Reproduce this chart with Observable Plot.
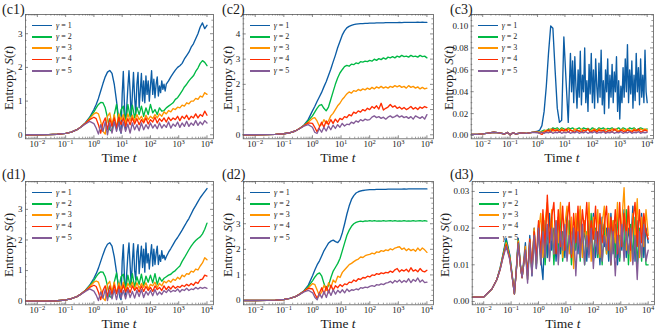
<!DOCTYPE html>
<html><head><meta charset="utf-8">
<script src="https://cdn.jsdelivr.net/npm/d3@7"></script>
<script src="https://cdn.jsdelivr.net/npm/@observablehq/plot@0.6"></script>
<style>
body{margin:0;background:#fff;}
#fig{position:relative;width:665px;height:333px;overflow:hidden;font-family:"Liberation Serif","Times New Roman","DejaVu Serif",serif;color:#1a1a1a;background:#fff;}
.abs{position:absolute;white-space:nowrap;line-height:1;}
</style></head><body><div id="fig"></div>
<script>
// ---------- data ----------
const colors = ["#0C5DA5","#00B945","#FF9500","#FF2C00","#845B97"];
const gammas = ["1","2","3","4","5"];
const xMajor = [1e-2,1e-1,1,1e1,1e2,1e3,1e4];
const xDomainLog = [-2.42, 4.23];

// log10(t) grids
const GA = [-2.42,-2,-1.6,-1.3,-1,-0.8,-0.6,-0.45,-0.3,-0.15,
0,0.08,0.16,0.24,0.32,0.4,0.48,0.56,0.64,0.72,
0.8,0.88,0.96,1.04,1.12,1.2,1.28,1.36,1.44,1.52,
1.6,1.68,1.76,1.84,1.92,2,2.08,2.16,2.24,2.32,
2.4,2.48,2.56,2.64,2.72,2.8,2.88,2.96,3.04,3.12,
3.2,3.28,3.36,3.44,3.52,3.6,3.68,3.76,3.84,3.92,
4];
// finer grid for the gamma = 1 curves of (c1)/(d1)
const GB1 = [-2.42,-2,-1.6,-1.3,-1,-0.8,-0.6,-0.45,-0.3,-0.15,
0,0.08,0.16,0.24,0.32,0.4,0.48,0.56,0.64,0.72,0.8,0.88,
0.92,0.96,1,1.04,1.08,1.12,1.16,1.2,1.24,1.28,
1.32,1.36,1.4,1.44,1.48,1.52,1.56,1.6,1.64,1.68,
1.72,1.76,1.8,1.84,1.88,1.92,1.96,2,2.04,2.08,
2.12,2.16,2.2,2.24,2.28,2.32,2.36,2.4,2.44,2.48,
2.52,2.56,
2.64,2.72,2.8,2.88,2.96,3.04,3.12,3.2,3.28,3.36,3.44,3.52,3.6,3.68,3.76,3.84,3.92,4];
const GC = [-2.42,-2.2,-2,-1.8,-1.6,-1.4,-1.2,-1.1,-1,-0.9,-0.8,-0.6,-0.4,-0.2,
0,0.08,0.16,0.24,0.32,0.4,0.48,0.56,0.64,0.72,
0.8,0.88,0.96,1.04,1.12,1.2,1.28,1.36,1.44,1.52,
1.6,1.68,1.76,1.84,1.92,2,2.08,2.16,2.24,2.32,
2.4,2.48,2.56,2.64,2.72,2.8,2.88,2.96,3.04,3.12,
3.2,3.28,3.36,3.44,3.52,3.6,3.68,3.76,3.84,3.92,
4];
// finer grid for the gamma = 1 curve of (c3)
const GC1 = [-2.42,-2.2,-2,-1.8,-1.6,-1.4,-1.2,-1.1,-1,-0.9,-0.8,-0.6,-0.4,-0.2,
0,0.08,0.16,0.24,0.32,0.4,0.48,0.56,0.64,0.72,0.8,0.88,0.96,1.04,1.12,1.2,
1.24,1.28,1.32,1.36,1.4,1.44,1.48,1.52,1.56,1.6,
1.64,1.68,1.72,1.76,1.8,1.84,1.88,1.92,1.96,2,
2.04,2.08,2.12,2.16,2.2,2.24,2.28,2.32,2.36,2.4,
2.44,2.48,2.52,2.56,2.6,2.64,2.68,2.72,2.76,2.8,
2.84,2.88,2.92,2.96,3,3.04,3.08,3.12,3.16,3.2,
3.24,3.28,3.32,3.36,3.4,3.44,3.48,3.52,3.56,3.6,
3.64,3.68,3.72,3.76,3.8,3.84,3.88,3.92,3.96,4];
const GD = [-2.42,-2,-1.7,-1.52,-1.4,-1.3,-1.18,-1.05,-0.95,-0.88,-0.8,-0.74,-0.66,-0.6,
-0.48,-0.4,-0.32,-0.24,-0.16,-0.08,0,0.08,0.16,0.24,
0.32,0.4,0.48,0.56,0.64,0.72,0.8,0.88,0.96,1.04,
1.12,1.2,1.28,1.36,1.44,1.52,1.6,1.68,1.76,1.84,
1.92,2,2.08,2.16,2.24,2.32,2.4,2.48,2.56,2.64,
2.72,2.8,2.88,2.96,3.04,3.12,3.2,3.28,3.36,3.44,
3.52,3.6,3.68,3.76,3.84,3.92,4];

// (c1)
const c1_g1 = [0,0,0.005,0.015,0.04,0.08,0.15,0.24,0.36,0.52,
0.75,0.9,1.08,1.3,1.52,1.72,1.86,1.91,1.82,1.5,1.0,0.45,
0.15,0.05,1.2,1.88,0.9,0.15,0.8,1.4,1.9,1.3,
0.45,1.2,1.85,1.1,0.6,1.5,1.85,0.8,1.3,1.82,
1.0,1.6,0.95,1.75,1.2,1.6,1.0,1.45,1.9,1.2,
1.65,1.1,1.5,1.72,1.15,1.45,1.25,1.6,1.35,1.5,
1.3,1.5,
1.6,1.72,1.82,1.92,2.0,2.05,2.12,2.25,2.35,2.45,2.6,2.7,2.85,3.0,3.2,3.32,3.15,3.25];
const c1_g2 = [0,0,0.005,0.015,0.04,0.08,0.15,0.24,0.35,0.5,
0.68,0.8,0.9,0.96,0.95,0.8,0.5,0.15,0.1,0.6,
0.9,0.35,0.75,0.85,0.3,0.9,0.55,0.88,0.5,0.82,
0.6,0.85,0.55,0.8,0.6,0.9,0.65,0.75,0.6,0.8,
0.7,0.72,0.8,0.85,0.9,0.95,1.05,1.1,1.2,1.3,
1.42,1.5,1.6,1.68,1.75,1.88,1.98,2.12,2.2,2.15,
2.05];
const c1_g3 = [0,0,0.005,0.015,0.04,0.08,0.15,0.24,0.34,0.48,
0.62,0.66,0.62,0.4,0.1,0.02,0.55,0.65,0.3,0.6,
0.2,0.62,0.45,0.6,0.35,0.62,0.42,0.58,0.4,0.6,
0.45,0.55,0.4,0.58,0.45,0.55,0.48,0.6,0.5,0.62,
0.55,0.68,0.62,0.72,0.68,0.78,0.75,0.82,0.8,0.88,
0.85,0.95,0.92,1.0,1.0,1.08,1.05,1.15,1.12,1.25,
1.2];
const c1_g4 = [0,0,0.005,0.015,0.04,0.08,0.15,0.24,0.34,0.45,
0.52,0.48,0.3,0.05,0.35,0.5,0.15,0.48,0.25,0.5,
0.2,0.52,0.3,0.5,0.25,0.48,0.3,0.5,0.32,0.48,
0.3,0.45,0.35,0.5,0.32,0.45,0.38,0.52,0.35,0.48,
0.4,0.5,0.38,0.52,0.42,0.5,0.45,0.55,0.42,0.55,
0.48,0.58,0.45,0.55,0.5,0.62,0.5,0.6,0.55,0.7,
0.58];
const c1_g5 = [0,0,0.005,0.015,0.04,0.08,0.15,0.23,0.32,0.4,
0.33,0.2,0.02,0.3,0.1,0.38,0.0,0.35,0.05,0.38,
0.1,0.35,0.05,0.38,0.1,0.32,0.05,0.35,0.15,0.3,
0.12,0.35,0.15,0.3,0.18,0.35,0.2,0.3,0.18,0.35,
0.2,0.3,0.22,0.38,0.2,0.32,0.25,0.38,0.22,0.35,
0.25,0.4,0.25,0.35,0.28,0.42,0.28,0.38,0.3,0.42,
0.35];

// (c2)
const c2_g1 = [0,0,0.005,0.015,0.04,0.08,0.15,0.25,0.38,0.6,
0.95,1.12,1.32,1.5,1.68,1.9,2.1,2.35,2.6,2.88,
3.15,3.45,3.7,3.95,4.12,4.24,4.3,4.34,4.37,4.39,
4.4,4.41,4.41,4.42,4.42,4.43,4.43,4.43,4.44,4.44,
4.44,4.44,4.45,4.45,4.45,4.45,4.45,4.45,4.46,4.45,
4.46,4.46,4.46,4.46,4.46,4.46,4.47,4.46,4.47,4.46,
4.46];
const c2_g2 = [0,0,0.005,0.015,0.04,0.08,0.15,0.25,0.37,0.55,
0.75,0.9,1.05,1.17,1.2,1.05,0.95,1.1,1.4,1.7,
2.0,2.25,2.45,2.58,2.7,2.75,2.72,2.8,2.78,2.85,
2.82,2.9,2.88,2.92,2.9,2.95,2.92,3.0,2.95,3.02,
2.98,3.05,3.0,3.08,3.05,3.1,3.05,3.12,3.08,3.15,
3.1,3.12,3.08,3.15,3.1,3.12,3.08,3.15,3.1,3.12,
3.05];
const c2_g3 = [0,0,0.005,0.015,0.04,0.08,0.15,0.25,0.36,0.5,
0.65,0.68,0.55,0.35,0.4,0.6,0.45,0.55,0.75,0.85,
1.0,1.15,1.25,1.4,1.5,1.62,1.7,1.65,1.75,1.72,
1.8,1.75,1.82,1.78,1.85,1.8,1.88,1.82,1.9,1.85,
1.92,1.85,1.9,1.85,1.92,1.88,1.95,1.9,1.95,1.88,
1.92,1.85,1.95,1.88,1.92,1.85,1.9,1.82,1.88,1.82,
1.85];
const c2_g4 = [0,0,0.005,0.015,0.04,0.08,0.15,0.25,0.36,0.47,
0.45,0.3,0.12,0.3,0.5,0.3,0.55,0.4,0.6,0.45,
0.62,0.5,0.65,0.6,0.72,0.68,0.8,0.75,0.9,0.85,
0.95,0.9,1.0,0.95,1.05,1.0,1.12,1.05,1.15,1.02,
1.25,0.98,1.05,1.1,1.2,1.1,1.15,1.05,1.1,1.02,
1.08,1.0,1.05,1.12,1.02,1.08,1.0,1.1,1.05,1.12,
1.08];
const c2_g5 = [0,0,0.005,0.015,0.04,0.08,0.15,0.24,0.34,0.4,
0.3,0.1,0.05,0.25,0.1,0.3,0.15,0.35,0.2,0.38,
0.25,0.4,0.3,0.45,0.35,0.42,0.4,0.5,0.45,0.55,
0.5,0.6,0.55,0.62,0.58,0.6,0.7,0.75,0.68,0.72,
0.65,0.7,0.62,0.7,0.75,0.68,0.72,0.78,0.7,0.75,
0.68,0.72,0.65,0.72,0.62,0.75,0.7,0.65,0.72,0.62,
0.8];

// (c3)
const c3Early = [0.001,0.0011,0.0015,0.0022,0.003,0.0024,0.0014,0.0028,0.0006,0.0026,0.0014,0.0024,0.002,0.0028];
const c3_g1 = [...c3Early,
0.004,0.005,0.009,0.022,0.045,0.075,0.1,0.098,0.06,0.025,0.012,0.014,0.09,0.05,0.012,0.075,
0.04,0.068,0.03,0.072,0.045,0.025,0.06,0.035,0.077,0.028,
0.055,0.04,0.08,0.03,0.05,0.022,0.065,0.038,0.075,0.03,
0.06,0.025,0.07,0.045,0.03,0.066,0.035,0.078,0.028,0.05,
0.02,0.06,0.04,0.07,0.025,0.055,0.035,0.065,0.03,0.058,
0.04,0.072,0.022,0.05,0.015,0.045,0.03,0.062,0.035,0.07,
0.04,0.083,0.03,0.06,0.038,0.068,0.025,0.055,0.032,0.075,
0.04,0.062,0.028,0.07,0.035,0.055,0.03,0.078,0.04,0.03];
const c3_g2 = [...c3Early,
0.003,0.003,0.004,0.005,0.004,0.006,0.005,0.007,0.006,0.007,
0.005,0.007,0.006,0.005,0.007,0.006,0.007,0.005,0.006,0.007,
0.005,0.007,0.006,0.0065,0.005,0.007,0.006,0.005,0.007,0.006,
0.007,0.005,0.0065,0.006,0.007,0.005,0.006,0.007,0.005,0.007,
0.006,0.005,0.007,0.006,0.007,0.005,0.006,0.007,0.006,0.005,
0.006];
const c3_g3 = [...c3Early,
0.003,0.003,0.003,0.004,0.005,0.004,0.006,0.004,0.005,0.006,
0.004,0.006,0.005,0.004,0.006,0.005,0.004,0.006,0.005,0.004,
0.006,0.004,0.005,0.006,0.004,0.005,0.006,0.004,0.006,0.005,
0.004,0.006,0.005,0.004,0.006,0.005,0.006,0.004,0.005,0.006,
0.004,0.006,0.005,0.004,0.006,0.005,0.004,0.006,0.005,0.006,
0.005];
const c3_g4 = [...c3Early,
0.003,0.002,0.001,0.003,0.004,0.005,0.003,0.006,0.004,0.005,
0.003,0.005,0.004,0.006,0.003,0.005,0.004,0.003,0.005,0.004,
0.003,0.005,0.004,0.006,0.003,0.004,0.005,0.003,0.005,0.004,
0.005,0.003,0.004,0.005,0.003,0.006,0.004,0.003,0.005,0.004,
0.003,0.005,0.004,0.003,0.005,0.004,0.006,0.003,0.004,0.005,
0.004];
const c3_g5 = [...c3Early,
0.0025,0.002,0.003,0.002,0.003,0.0025,0.0035,0.002,0.003,0.0025,
0.0035,0.002,0.003,0.0025,0.0035,0.002,0.003,0.0025,0.0035,0.002,
0.003,0.0025,0.0035,0.002,0.003,0.0025,0.0035,0.002,0.003,0.0025,
0.0035,0.002,0.003,0.0025,0.0035,0.002,0.003,0.0025,0.0035,0.002,
0.003,0.0025,0.0035,0.002,0.003,0.0025,0.0035,0.002,0.003,0.0025,
0.003];

// (d1)
const d1_g1 = [0,0,0.005,0.015,0.04,0.08,0.15,0.24,0.36,0.52,
0.75,0.9,1.08,1.3,1.52,1.72,1.86,1.91,1.8,1.45,0.95,0.4,
0.12,0.05,1.3,1.85,0.8,0.2,0.9,1.5,1.9,1.2,
0.5,1.3,1.88,1.0,0.7,1.6,1.85,0.9,1.4,1.8,
1.1,1.7,0.95,1.9,1.25,1.55,1.05,1.5,1.85,1.15,
1.7,1.2,1.55,1.8,1.2,1.5,1.3,1.65,1.4,1.5,
1.35,1.45,
1.6,1.72,1.85,1.98,2.08,2.2,2.32,2.45,2.58,2.7,2.85,3.0,3.12,3.25,3.38,3.48,3.58,3.68];
const d1_g2 = [0,0,0.005,0.015,0.04,0.08,0.15,0.24,0.35,0.5,
0.68,0.8,0.9,0.96,0.95,0.8,0.5,0.15,0.12,0.62,
0.92,0.4,0.8,0.88,0.35,0.85,0.5,0.9,0.45,0.8,
0.55,0.88,0.5,0.82,0.62,0.85,0.6,0.9,0.55,0.78,
0.65,0.75,0.8,0.85,0.88,0.95,1.0,1.08,1.15,1.3,
1.42,1.55,1.68,1.8,1.9,1.98,2.05,2.1,2.2,2.35,
2.55];
const d1_g3 = [0,0,0.005,0.015,0.04,0.08,0.15,0.24,0.34,0.48,
0.62,0.66,0.62,0.4,0.1,0.02,0.55,0.65,0.3,0.62,
0.25,0.6,0.4,0.62,0.35,0.58,0.45,0.62,0.38,0.6,
0.42,0.58,0.45,0.6,0.4,0.55,0.5,0.62,0.45,0.58,
0.5,0.65,0.6,0.68,0.62,0.72,0.68,0.78,0.72,0.85,
0.8,0.9,0.88,0.98,0.95,1.05,1.02,1.15,1.25,1.42,
1.35];
const d1_g4 = [0,0,0.005,0.015,0.04,0.08,0.15,0.24,0.34,0.45,
0.52,0.48,0.3,0.05,0.35,0.5,0.15,0.5,0.22,0.52,
0.25,0.5,0.28,0.52,0.3,0.45,0.28,0.5,0.35,0.45,
0.3,0.5,0.32,0.48,0.35,0.45,0.32,0.5,0.38,0.45,
0.35,0.5,0.38,0.48,0.4,0.5,0.42,0.48,0.45,0.52,
0.48,0.55,0.5,0.58,0.52,0.62,0.58,0.7,0.72,0.85,
0.82];
const d1_g5 = [0,0,0.005,0.015,0.04,0.08,0.15,0.23,0.32,0.4,
0.33,0.2,0.02,0.3,0.1,0.38,0.02,0.35,0.08,0.38,
0.05,0.38,0.1,0.35,0.08,0.38,0.12,0.32,0.1,0.35,
0.15,0.38,0.12,0.32,0.2,0.35,0.18,0.38,0.2,0.3,
0.22,0.35,0.28,0.38,0.3,0.35,0.32,0.4,0.3,0.38,
0.35,0.42,0.35,0.4,0.38,0.45,0.4,0.45,0.42,0.45,
0.42];

// (d2)
const d2_g1 = [0,0,0.005,0.015,0.04,0.08,0.15,0.25,0.38,0.6,
0.98,1.2,1.4,1.55,1.75,1.95,2.1,2.25,2.32,2.36,
2.3,2.26,2.38,2.65,3.0,3.38,3.7,3.95,4.1,4.2,
4.25,4.28,4.3,4.31,4.32,4.33,4.33,4.33,4.34,4.34,
4.34,4.34,4.34,4.35,4.35,4.35,4.35,4.35,4.35,4.35,
4.36,4.35,4.36,4.36,4.36,4.36,4.36,4.36,4.36,4.36,
4.36];
const d2_g2 = [0,0,0.005,0.015,0.04,0.08,0.15,0.25,0.37,0.55,
0.78,0.92,1.03,1.08,0.95,0.65,0.42,0.6,0.9,1.15,
1.3,1.45,1.65,1.95,2.25,2.55,2.75,2.9,3.0,3.05,
3.08,3.1,3.08,3.11,3.1,3.12,3.1,3.12,3.1,3.11,
3.1,3.12,3.1,3.11,3.12,3.1,3.12,3.1,3.11,3.1,
3.12,3.1,3.11,3.1,3.12,3.1,3.11,3.12,3.1,3.12,
3.1];
const d2_g3 = [0,0,0.005,0.015,0.04,0.08,0.15,0.25,0.36,0.5,
0.66,0.62,0.4,0.18,0.35,0.6,0.4,0.7,0.5,0.8,
0.7,0.95,0.9,1.1,1.2,1.3,1.4,1.45,1.52,1.58,
1.62,1.7,1.68,1.75,1.78,1.8,1.85,1.82,1.9,1.88,
1.95,1.92,1.98,1.95,2.02,1.98,2.05,2.08,2.1,2.0,
2.05,1.95,2.02,1.95,2.0,1.92,2.05,1.95,2.05,1.98,
1.88];
const d2_g4 = [0,0,0.005,0.015,0.04,0.08,0.15,0.25,0.36,0.48,
0.45,0.25,0.08,0.3,0.5,0.25,0.55,0.3,0.6,0.4,
0.58,0.5,0.62,0.55,0.65,0.62,0.72,0.7,0.8,0.75,
0.85,0.82,0.9,0.88,0.95,0.92,1.0,0.98,1.05,1.02,
1.08,1.05,1.1,1.08,1.15,1.1,1.2,1.25,1.12,1.2,
1.15,1.22,1.12,1.28,1.15,1.2,1.12,1.25,1.15,1.12,
1.18];
const d2_g5 = [0,0,0.005,0.015,0.04,0.08,0.15,0.24,0.34,0.4,
0.3,0.12,0.03,0.28,0.1,0.35,0.12,0.4,0.2,0.42,
0.25,0.4,0.3,0.42,0.3,0.45,0.35,0.42,0.4,0.45,
0.42,0.5,0.48,0.52,0.5,0.55,0.58,0.55,0.62,0.6,
0.65,0.62,0.68,0.7,0.75,0.68,0.78,0.72,0.8,0.7,
0.78,0.72,0.85,0.7,0.82,0.75,0.88,0.72,0.8,0.7,
0.72];

// (d3)
const d3_g1 = [0.0012,0.0012,0.0034,0.006,0.0092,0.0128,0.0172,0.0128,0.0065,0.0021,0.010,0.0172,0.0100,0.0066,
0.016,0.006,0.018,0.007,0.02,0.009,0.021,0.012,0.006,0.022,
0.012,0.024,0.014,0.02,0.011,0.023,0.013,0.019,0.012,0.024,
0.015,0.021,0.011,0.018,0.013,0.025,0.014,0.02,0.011,0.022,
0.016,0.024,0.012,0.019,0.01,0.023,0.015,0.02,0.011,0.024,
0.013,0.021,0.01,0.018,0.014,0.025,0.012,0.02,0.015,0.026,
0.011,0.022,0.013,0.024,0.012,0.02,0.016];
const d3_g2 = [0.0012,0.0012,0.0034,0.006,0.009,0.0125,0.0166,0.0124,0.0063,0.0021,0.0098,0.0168,0.0098,0.0065,
0.014,0.007,0.016,0.008,0.019,0.01,0.02,0.011,0.022,0.01,
0.02,0.012,0.023,0.01,0.021,0.013,0.024,0.011,0.019,0.012,
0.022,0.01,0.02,0.014,0.023,0.011,0.021,0.01,0.019,0.013,
0.024,0.011,0.02,0.012,0.022,0.01,0.021,0.013,0.019,0.01,
0.022,0.012,0.024,0.011,0.02,0.013,0.025,0.01,0.021,0.012,
0.023,0.01,0.02,0.011,0.022,0.01,0.01];
const d3_g3 = [0.0012,0.0012,0.0034,0.006,0.0089,0.0122,0.016,0.012,0.0062,0.0021,0.0096,0.0165,0.0097,0.0065,
0.015,0.006,0.017,0.008,0.02,0.01,0.019,0.024,0.012,0.022,
0.027,0.014,0.025,0.013,0.022,0.016,0.027,0.012,0.021,0.026,
0.013,0.023,0.009,0.024,0.017,0.026,0.012,0.022,0.015,0.027,
0.011,0.023,0.016,0.025,0.012,0.021,0.026,0.013,0.024,0.01,
0.022,0.016,0.027,0.013,0.022,0.031,0.014,0.026,0.011,0.024,
0.017,0.028,0.012,0.023,0.015,0.025,0.018];
const d3_g4 = [0.0012,0.0012,0.0034,0.006,0.0088,0.012,0.0155,0.0117,0.0061,0.0021,0.0095,0.016,0.0096,0.0065,
0.014,0.007,0.017,0.009,0.019,0.012,0.022,0.013,0.025,0.014,
0.029,0.016,0.023,0.027,0.013,0.025,0.015,0.026,0.014,0.022,
0.027,0.012,0.024,0.016,0.026,0.013,0.025,0.019,0.027,0.014,
0.022,0.017,0.026,0.013,0.024,0.016,0.021,0.026,0.014,0.023,
0.017,0.025,0.013,0.027,0.015,0.024,0.018,0.026,0.014,0.022,
0.027,0.015,0.025,0.016,0.024,0.019,0.017];
const d3_g5 = [0.0012,0.0012,0.0034,0.006,0.0087,0.0118,0.015,0.0114,0.006,0.0021,0.0094,0.0158,0.0095,0.0065,
0.014,0.005,0.016,0.007,0.018,0.009,0.02,0.01,0.019,0.012,
0.021,0.011,0.02,0.013,0.022,0.01,0.019,0.014,0.021,0.011,
0.018,0.013,0.02,0.007,0.019,0.012,0.021,0.01,0.018,0.012,
0.02,0.009,0.019,0.013,0.021,0.011,0.018,0.014,0.02,0.01,
0.019,0.007,0.018,0.012,0.021,0.011,0.019,0.013,0.02,0.01,
0.018,0.006,0.019,0.012,0.021,0.011,0.014];

// panel ticks
const yTicksInt3 = [0,1,2,3];
const yTicksInt4 = [0,1,2,3,4];
const yTicksC3 = [0,0.02,0.04,0.06,0.08,0.10];
const yTicksD3 = [0,0.01,0.02,0.03];

// ---------- layout ----------
const panels = [
 {name:"(c1)", ox:0,   oy:0,   W:220, H:165, L:25,    R:213, T:14,  B:138.3, yDomain:[-0.119,3.57], yTicks:yTicksInt3, minor:0.2,   fmt:d3.format("d"),  grids:[GB1,GA,GA,GA,GA], series:[c1_g1,c1_g2,c1_g3,c1_g4,c1_g5], labX:2,  ylabX:7.5},
 {name:"(c2)", ox:220, oy:0,   W:220, H:165, L:242.7, R:433, T:14,  B:138.3, yDomain:[-0.159,4.77], yTicks:yTicksInt4, minor:0.2,   fmt:d3.format("d"),  grids:[GA,GA,GA,GA,GA], series:[c2_g1,c2_g2,c2_g3,c2_g4,c2_g5], labX:222, ylabX:227},
 {name:"(c3)", ox:440, oy:0,   W:225, H:165, L:470.7, R:653, T:14,  B:138.3, yDomain:[-0.003,0.1105], yTicks:yTicksC3, minor:0.005, fmt:d3.format(".2f"), grids:[GC1,GC,GC,GC,GC], series:[c3_g1,c3_g2,c3_g3,c3_g4,c3_g5], labX:450, ylabX:447.5},
 {name:"(d1)", ox:0,   oy:165, W:220, H:168, L:25,    R:213, T:181, B:304.3, yDomain:[-0.118,3.91], yTicks:yTicksInt3, minor:0.2,   fmt:d3.format("d"),  grids:[GB1,GA,GA,GA,GA], series:[d1_g1,d1_g2,d1_g3,d1_g4,d1_g5], labX:2,  ylabX:7.5},
 {name:"(d2)", ox:220, oy:165, W:220, H:168, L:243,   R:433, T:181, B:304.3, yDomain:[-0.168,4.65], yTicks:yTicksInt4, minor:0.2,   fmt:d3.format("d"),  grids:[GA,GA,GA,GA,GA], series:[d2_g1,d2_g2,d2_g3,d2_g4,d2_g5], labX:222, ylabX:227},
 {name:"(d3)", ox:440, oy:165, W:225, H:168, L:471.7, R:654, T:181, B:304.3, yDomain:[-0.0009,0.0327], yTicks:yTicksD3, minor:0.002, fmt:d3.format(".2f"), grids:[GD,GD,GD,GD,GD], series:[d3_g1,d3_g2,d3_g3,d3_g4,d3_g5], labX:450, ylabX:444}
];

const fig = document.getElementById("fig");
const NS = "http://www.w3.org/2000/svg";
const frameColor = "#5a5a5a";
const serif = "'Liberation Serif','Times New Roman','DejaVu Serif',serif";

function addDiv(html, css) {
  const d = document.createElement("div");
  d.className = "abs";
  d.innerHTML = html;
  Object.assign(d.style, css);
  fig.appendChild(d);
  return d;
}

const xMinor = [];
for (let k = -3; k <= 4; k++) for (let m = 2; m <= 9; m++) {
  const v = m * Math.pow(10, k);
  const lv = Math.log10(v);
  if (lv > xDomainLog[0] && lv < xDomainLog[1]) xMinor.push(v);
}

panels.forEach(p => {
  const pw = p.R - p.L, ph = p.B - p.T;
  const [ylo, yhi] = p.yDomain;
  const yMinor = [];
  for (let i = Math.ceil(ylo / p.minor); i * p.minor <= yhi; i++) {
    const v = +(i * p.minor).toFixed(6);
    if (!p.yTicks.some(t => Math.abs(t - v) < p.minor / 10)) yMinor.push(v);
  }
  const marks = [
    Plot.axisX({ticks: xMajor, tickSize: 0, tickPadding: 2, fontSize: 9, label: null,
      tickFormat: d => "10^" + Math.round(Math.log10(d))}),
    Plot.axisY({ticks: p.yTicks, tickSize: 0, tickPadding: 3, fontSize: 9, label: null, tickFormat: p.fmt}),
    Plot.tickX(xMajor, {x: d => d, insetTop: ph - 3, stroke: frameColor, strokeWidth: 0.7}),
    Plot.tickX(xMajor, {x: d => d, insetBottom: ph - 3, stroke: frameColor, strokeWidth: 0.7}),
    Plot.tickX(xMinor, {x: d => d, insetTop: ph - 1.6, stroke: frameColor, strokeWidth: 0.6}),
    Plot.tickX(xMinor, {x: d => d, insetBottom: ph - 1.6, stroke: frameColor, strokeWidth: 0.6}),
    Plot.tickY(p.yTicks, {y: d => d, insetRight: pw - 3, stroke: frameColor, strokeWidth: 0.7}),
    Plot.tickY(p.yTicks, {y: d => d, insetLeft: pw - 3, stroke: frameColor, strokeWidth: 0.7}),
    Plot.tickY(yMinor, {y: d => d, insetRight: pw - 1.6, stroke: frameColor, strokeWidth: 0.6}),
    Plot.tickY(yMinor, {y: d => d, insetLeft: pw - 1.6, stroke: frameColor, strokeWidth: 0.6})
  ];
  p.series.forEach((vals, i) => {
    const grid = p.grids[i];
    if (vals.length !== grid.length) console.error(p.name, i, vals.length, grid.length);
    const data = grid.map((lt, j) => ({t: Math.pow(10, lt), s: vals[j]}));
    marks.push(Plot.line(data, {x: "t", y: "s", stroke: colors[i], strokeWidth: 1.35, clip: true}));
  });
  marks.push(Plot.frame({stroke: frameColor, strokeWidth: 0.8}));

  const svg = Plot.plot({
    width: p.W, height: p.H,
    marginLeft: p.L - p.ox, marginRight: p.ox + p.W - p.R,
    marginTop: p.T - p.oy, marginBottom: p.oy + p.H - p.B,
    x: {type: "log", domain: [Math.pow(10, xDomainLog[0]), Math.pow(10, xDomainLog[1])]},
    y: {domain: p.yDomain},
    style: {fontFamily: serif, fontSize: "9px", color: "#1a1a1a", background: "transparent", overflow: "visible"},
    marks
  });
  svg.style.position = "absolute";
  svg.style.left = p.ox + "px";
  svg.style.top = p.oy + "px";
  svg.style.maxWidth = "none";
  svg.setAttribute("font-family", serif);
  fig.appendChild(svg);

  svg.querySelectorAll('g[aria-label="x-axis tick label"] text').forEach(t => {
    const m = t.textContent.match(/^10\^(-?\d+)$/);
    if (!m) return;
    t.textContent = "";
    const a = document.createElementNS(NS, "tspan"); a.textContent = "10";
    const b = document.createElementNS(NS, "tspan");
    b.setAttribute("dy", "-0.45em"); b.setAttribute("font-size", "6.5");
    b.textContent = m[1].replace("-", "\u2212");
    t.append(a, b);
  });

  addDiv(p.name, {left: p.labX + "px", top: (p.oy + 3) + "px", fontSize: "14px"});
  addDiv("Entropy <i>S</i>(<i>t</i>)", {left: p.ylabX + "px", top: ((p.T + p.B) / 2 + 2) + "px",
    fontSize: "13px", transform: "translate(-50%,-50%) rotate(-90deg)"});
  addDiv("Time <i>t</i>", {left: ((p.L + p.R) / 2) + "px", top: (p.B + 19.5) + "px",
    fontSize: "13.5px", transform: "translate(-50%,-50%)"});
  gammas.forEach((g, i) => {
    const y = p.T + 11.5 + i * 11.3;
    addDiv("", {left: (p.L + 7) + "px", top: (y - 0.9) + "px", width: "20px", height: "1.8px", background: colors[i]});
    addDiv("<i>\u03b3</i> = " + g, {left: (p.L + 31) + "px", top: (y - 4) + "px", fontSize: "8px"});
  });
});
</script>
</body></html>
